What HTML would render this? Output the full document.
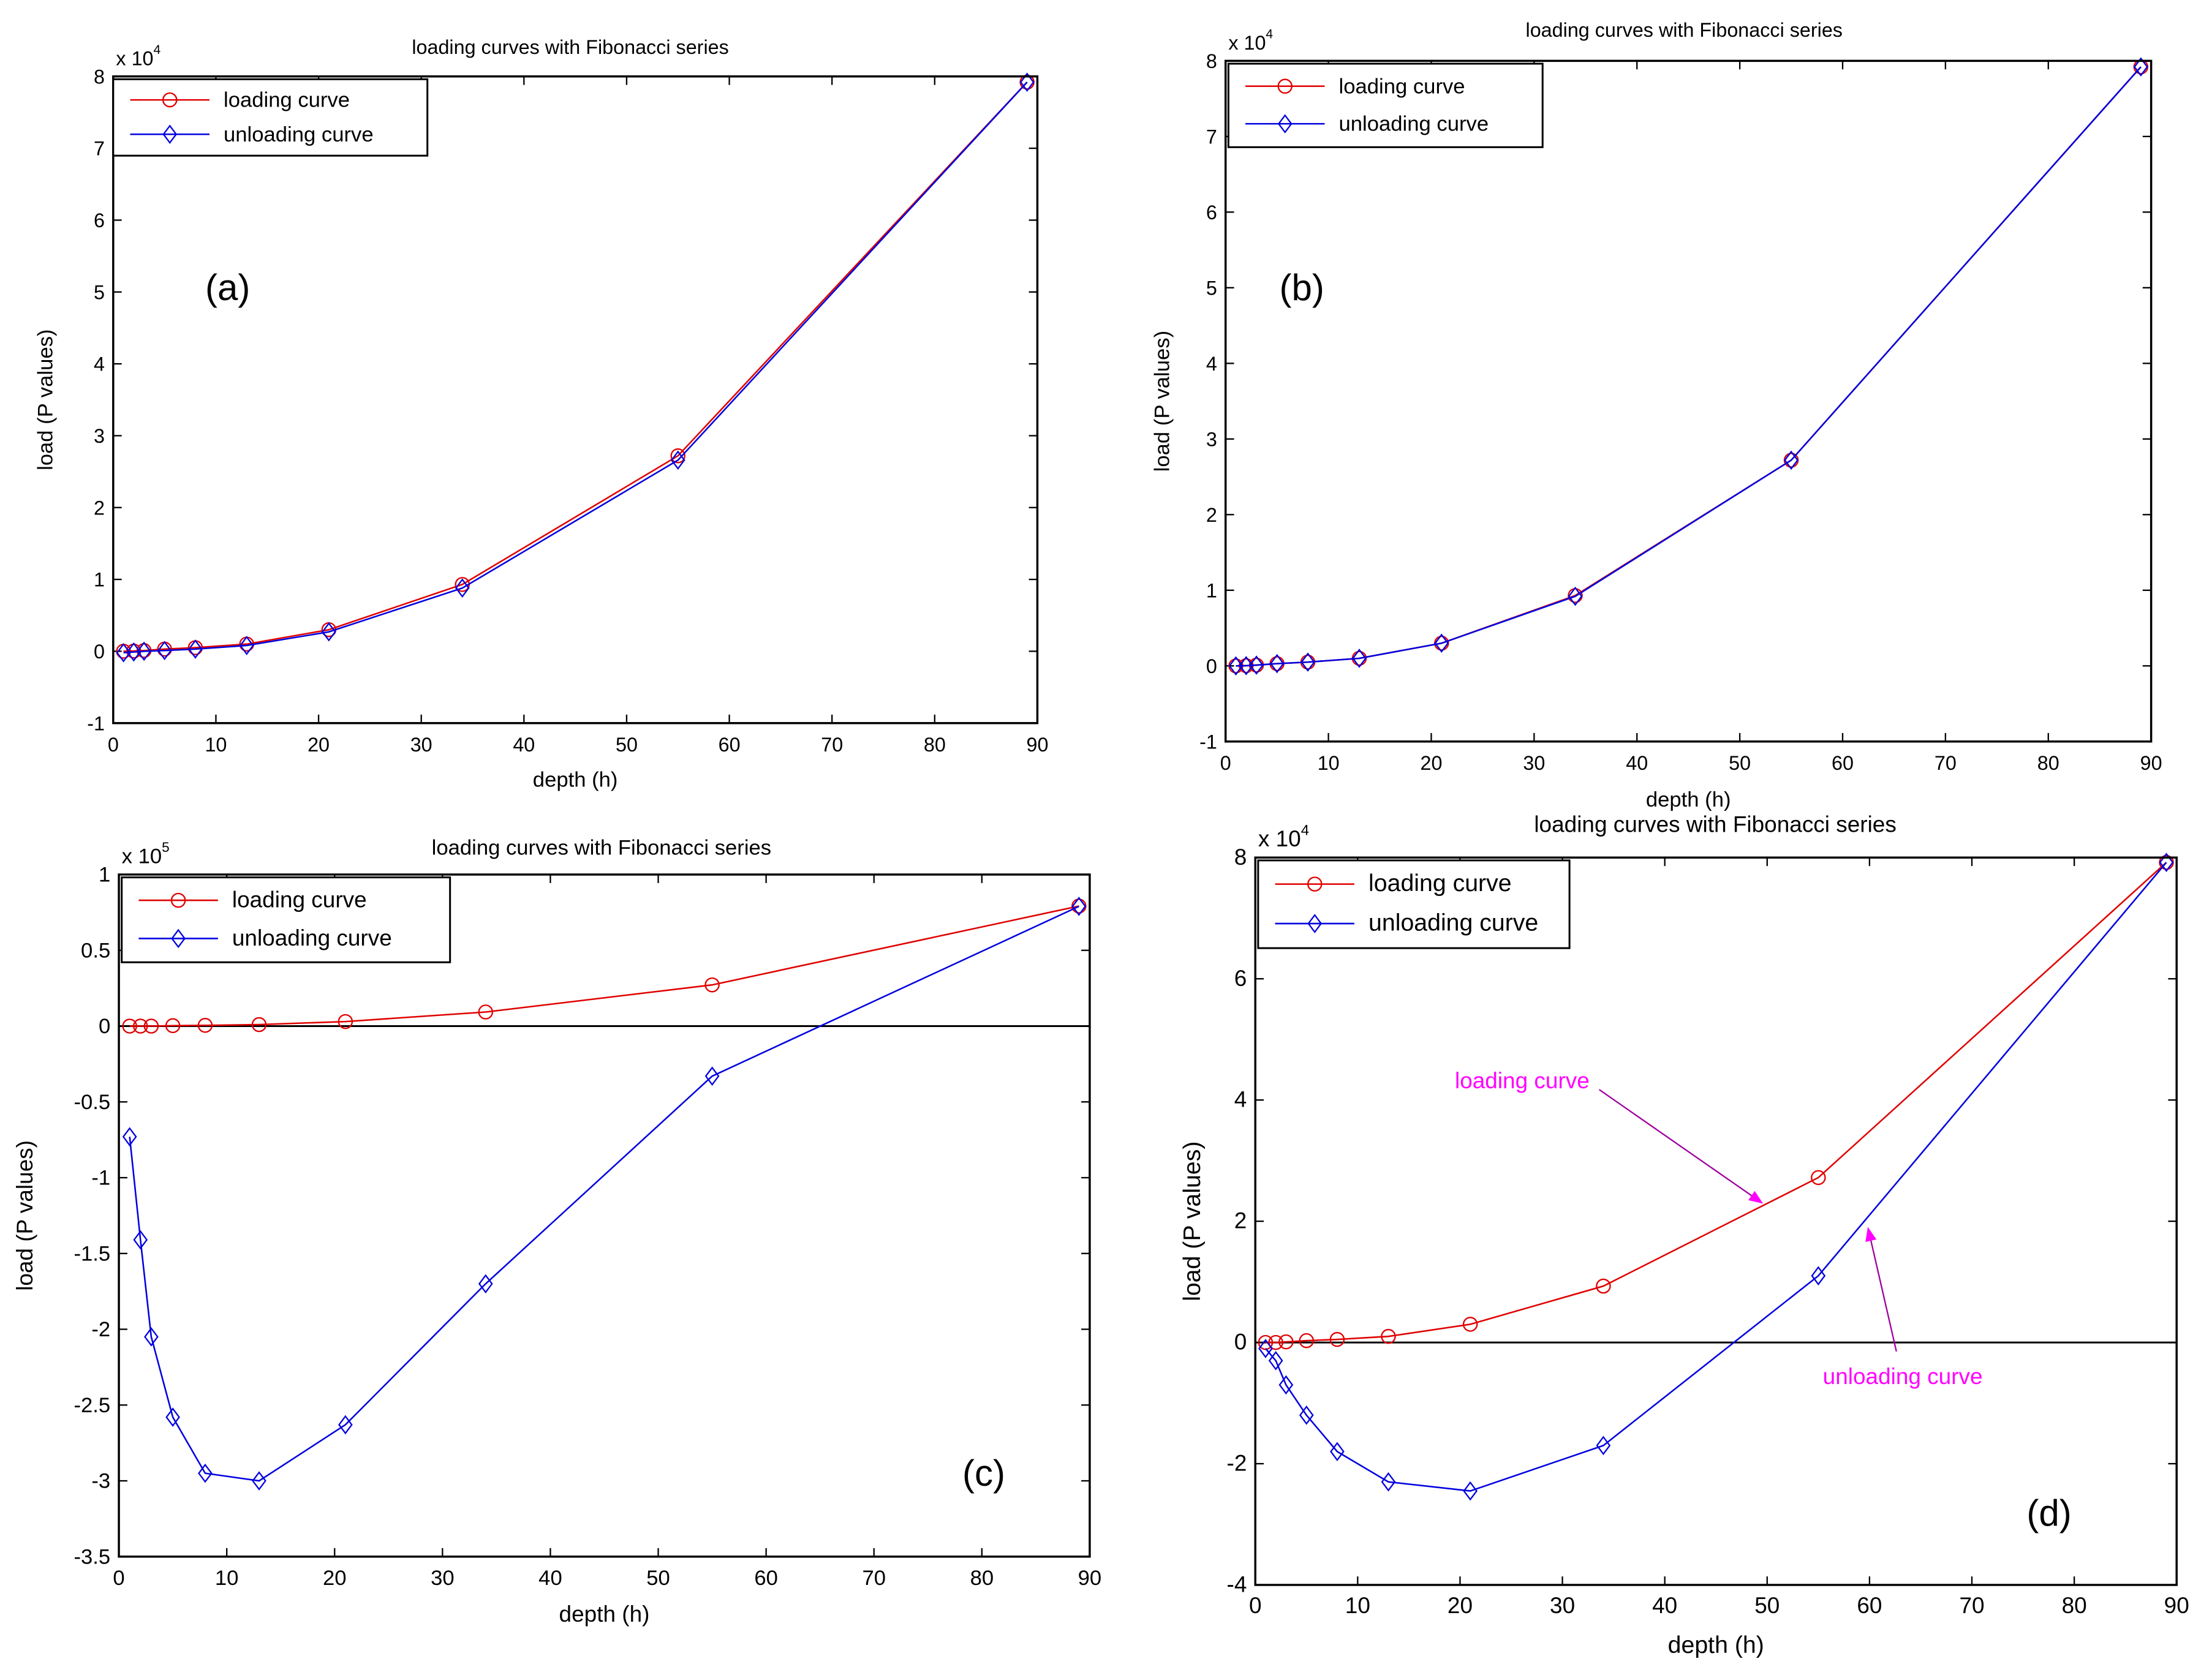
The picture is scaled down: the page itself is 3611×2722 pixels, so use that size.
<!DOCTYPE html>
<html><head><meta charset="utf-8"><style>
html,body{margin:0;padding:0;background:#fff}
svg{display:block}
text{font-family:"Liberation Sans",sans-serif}
</style></head><body>
<svg id="fig" width="3611" height="2722" viewBox="0 0 1563 1178" preserveAspectRatio="none" xmlns="http://www.w3.org/2000/svg"></svg>
<script>
const depths = [1,2,3,5,8,13,21,34,55,89];
const xTicks = [0,10,20,30,40,50,60,70,80,90];
// panel a (x1e4)
const aLoad = [0,0.003,0.01,0.03,0.05,0.1,0.3,0.93,2.72,7.92];
const aUnload = [-0.02,-0.01,0,0.01,0.03,0.08,0.27,0.88,2.66,7.92];
const aTicks = [-1,0,1,2,3,4,5,6,7,8];
// panel b (x1e4)
const bLoad = [0,0.003,0.01,0.03,0.05,0.1,0.3,0.93,2.72,7.92];
const bUnload = [0,0.003,0.01,0.03,0.05,0.1,0.3,0.92,2.72,7.92];
const bTicks = [-1,0,1,2,3,4,5,6,7,8];
// panel c (x1e5)
const cLoad = [0,0,0,0.003,0.005,0.01,0.03,0.093,0.272,0.792];
const cUnload = [-0.73,-1.41,-2.05,-2.58,-2.95,-3.0,-2.63,-1.7,-0.33,0.79];
const cTicks = [-3.5,-3,-2.5,-2,-1.5,-1,-0.5,0,0.5,1];
const cTickLabels = ["-3.5","-3","-2.5","-2","-1.5","-1","-0.5","0","0.5","1"];
// panel d (x1e4)
const dLoad = [0,0,0.01,0.03,0.05,0.1,0.3,0.93,2.72,7.92];
const dUnload = [-0.1,-0.3,-0.7,-1.2,-1.8,-2.3,-2.45,-1.7,1.1,7.92];
const dTicks = [-4,-2,0,2,4,6,8];

const NS="http://www.w3.org/2000/svg";
const svg=document.getElementById('fig');
function mk(tag,attrs,parent,txt){const e=document.createElementNS(NS,tag);for(const k in attrs)e.setAttribute(k,attrs[k]);if(txt!==undefined)e.textContent=txt;(parent||svg).appendChild(e);return e;}

function panel(p){
  const g=mk('g',{});
  
  
  const sx=v=>p.x0+(v-0)/(90-0)*(p.x1-p.x0);
  const sy=v=>p.y1-(v-p.ymin)/(p.ymax-p.ymin)*(p.y1-p.y0);
  // zero line
  if(p.zero){const z=mk('line',{x1:p.x0,x2:p.x1,y1:sy(0),y2:sy(0),stroke:'#000','stroke-width':1.3},g);
    }
  // ticks
  xTicks.forEach(t=>{const X=sx(t);
    mk('line',{x1:X,x2:X,y1:p.y1,y2:p.y1-6,stroke:'#000','stroke-width':1},g);
    mk('line',{x1:X,x2:X,y1:p.y0,y2:p.y0+6,stroke:'#000','stroke-width':1},g);
    const tl=mk('text',{x:X,y:p.y1+20,'font-size':p.fs,'text-anchor':'middle'},g,String(t));
    });
  p.ticks.forEach((t,i)=>{const Y=sy(t);
    mk('line',{x1:p.x0,x2:p.x0+6,y1:Y,y2:Y,stroke:'#000','stroke-width':1},g);
    mk('line',{x1:p.x1,x2:p.x1-6,y1:Y,y2:Y,stroke:'#000','stroke-width':1},g);
    const tl=mk('text',{x:p.x0-6,y:Y+5,'font-size':p.fs,'text-anchor':'end'},g,p.labels?p.labels[i]:String(t));
    });
  // series
  const ser=(vals,color,mark,name)=>{
    const pts=depths.map((d,i)=>sx(d)+','+sy(vals[i])).join(' ');
    const l=mk('polyline',{points:pts,fill:'none',stroke:color,'stroke-width':1.1},g);
    
    depths.forEach((d,i)=>{const X=sx(d),Y=sy(vals[i]);let m;
      if(mark==='o')m=mk('circle',{cx:X,cy:Y,r:4.8,fill:'none',stroke:color,'stroke-width':1},g);
      else m=mk('polygon',{points:`${X},${Y-6} ${X+4.5},${Y} ${X},${Y+6} ${X-4.5},${Y}`,fill:'none',stroke:color,'stroke-width':1},g);
      });
  };
  ser(p.load,'#e00000','o','loading-curve');
  ser(p.unload,'#0000e0','d','unloading-curve');
  // box
  const b=mk('rect',{x:p.x0,y:p.y0,width:p.x1-p.x0,height:p.y1-p.y0,fill:'none',stroke:'#000','stroke-width':1.5},g);
  
  // exponent
  const ex=mk('text',{x:p.x0+2,y:p.y0-8,'font-size':p.fs},g);
  
  mk('tspan',{},ex,'x 10');mk('tspan',{dy:-8,'font-size':p.fs*0.65},ex,p.exp);
  // title
  const ti=mk('text',{x:p.tx,y:p.ty,'font-size':p.fs,'text-anchor':'middle'},g,'loading curves with Fibonacci series');
  
  const xl=mk('text',{x:(p.x0+p.x1)/2,y:p.xly,'font-size':p.fs+1,'text-anchor':'middle'},g,'depth (h)');
  
  const yc=(p.y0+p.y1)/2;
  const yl=mk('text',{x:p.ylx,y:yc,'font-size':p.fs+1,'text-anchor':'middle',transform:`rotate(-90 ${p.ylx} ${yc})`},g,'load (P values)');
  
  // legend
  const L=p.leg;
  const lg=mk('g',{},g);
  mk('rect',{x:L.x,y:L.y,width:L.w,height:L.h,fill:'#fff',stroke:'#000','stroke-width':1.3},lg);
  const r1=L.y+L.h*0.27,r2=L.y+L.h*0.72,cx=L.x+40;
  mk('line',{x1:L.x+12,x2:L.x+68,y1:r1,y2:r1,stroke:'#e00000','stroke-width':1.1},lg);
  mk('circle',{cx:cx,cy:r1,r:4.8,fill:'none',stroke:'#e00000'},lg);
  mk('line',{x1:L.x+12,x2:L.x+68,y1:r2,y2:r2,stroke:'#0000e0','stroke-width':1.1},lg);
  mk('polygon',{points:`${cx},${r2-6} ${cx+4.5},${r2} ${cx},${r2+6} ${cx-4.5},${r2}`,fill:'none',stroke:'#0000e0'},lg);
  const e1=mk('text',{x:L.x+78,y:r1+5,'font-size':p.lfs},lg,'loading curve');
  
  const e2=mk('text',{x:L.x+78,y:r2+5,'font-size':p.lfs},lg,'unloading curve');
  
  const pl=mk('text',{x:p.px,y:p.py,'font-size':26},g,'('+p.id+')');
  
  return {g,sx,sy};
}

panel({id:'a',x0:80,x1:733,y0:54,y1:511,ymin:-1,ymax:8,ticks:aTicks,load:aLoad,unload:aUnload,exp:'4',
  fs:14,lfs:15,tx:403,ty:38,xly:556,ylx:37,leg:{x:80,y:56,w:222,h:54},px:145,py:212});
panel({id:'b',x0:866,x1:1520,y0:43,y1:524,ymin:-1,ymax:8,ticks:bTicks,load:bLoad,unload:bUnload,exp:'4',
  fs:14,lfs:15,tx:1190,ty:26,xly:570,ylx:826,leg:{x:868,y:45,w:222,h:59},px:904,py:212});
panel({id:'c',x0:84,x1:770,y0:618,y1:1100,ymin:-3.5,ymax:1,ticks:cTicks,labels:cTickLabels,load:cLoad,unload:cUnload,exp:'5',
  fs:15,lfs:16,tx:425,ty:604,xly:1146,ylx:23,leg:{x:86,y:620,w:232,h:60},px:680,py:1050,zero:true});
const D=panel({id:'d',x0:887,x1:1538,y0:606,y1:1120,ymin:-4,ymax:8,ticks:dTicks,load:dLoad,unload:dUnload,exp:'4',
  fs:16,lfs:17,tx:1212,ty:588,xly:1168,ylx:848,leg:{x:889,y:608,w:220,h:62},px:1432,py:1078,zero:true});
// annotations for panel d
const ann=mk('g',{});
mk('defs',{},ann).innerHTML='<marker id="ah" markerWidth="10" markerHeight="8" refX="9" refY="4" orient="auto"><path d="M0,0 L10,4 L0,8 z" fill="#ff00ff"/></marker>';
mk('line',{x1:1130,y1:770,x2:1245,y2:850,stroke:'#a000a0','stroke-width':1,'marker-end':'url(#ah)'},ann);
mk('line',{x1:1340,y1:955,x2:1320,y2:868,stroke:'#a000a0','stroke-width':1,'marker-end':'url(#ah)'},ann);
const a1=mk('text',{x:1028,y:769,'font-size':16,fill:'#ff00ff'},ann,'loading curve');

const a2=mk('text',{x:1288,y:978,'font-size':16,fill:'#ff00ff'},ann,'unloading curve');

</script>
</body></html>
